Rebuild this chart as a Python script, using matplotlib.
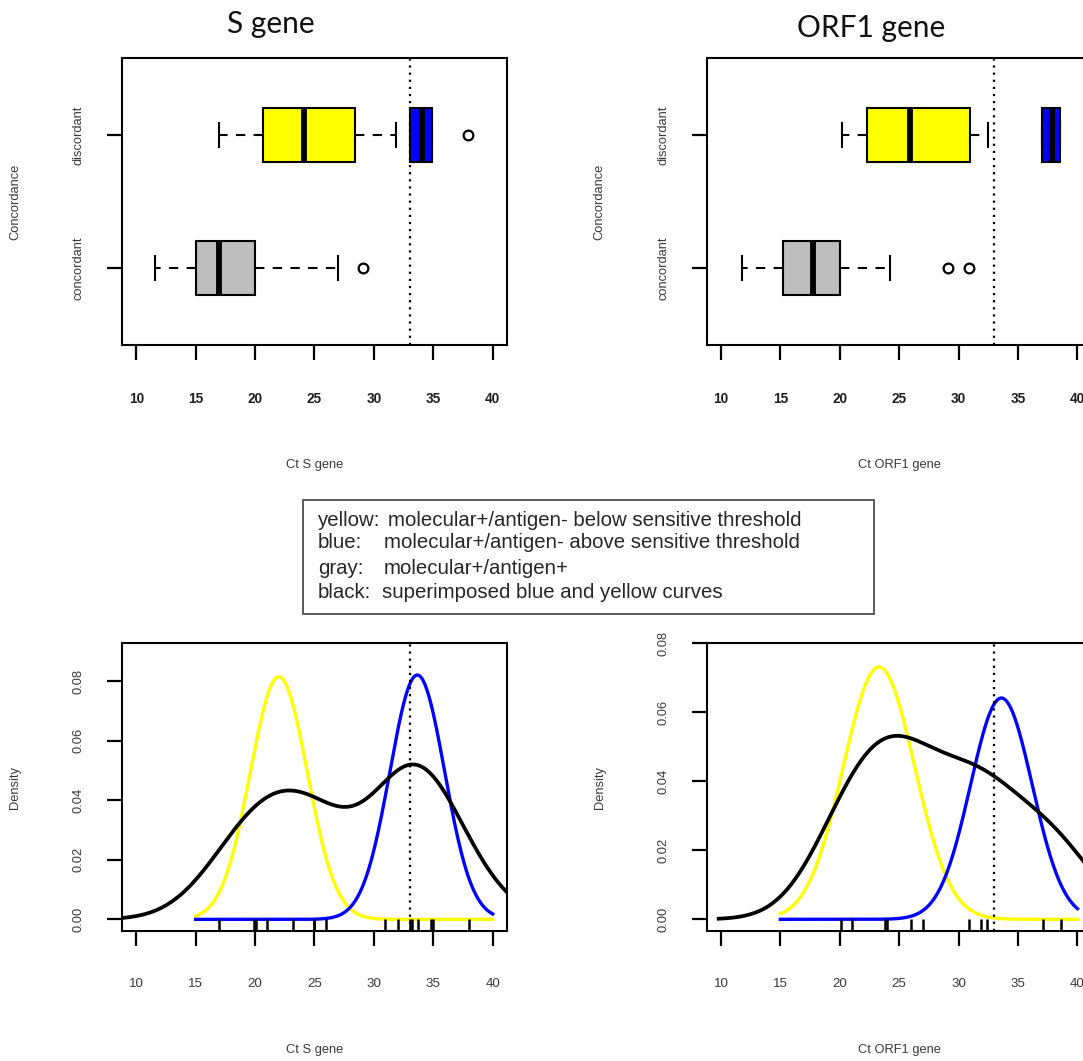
import numpy as np
import matplotlib
matplotlib.use("Agg")
import matplotlib.pyplot as plt
from matplotlib.patches import Rectangle

W, H = 1083, 1061

# box summaries: whislo, q1, med, q3, whishi, fliers
s_concordant = [11.6, 15.0, 17.0, 20.0, 27.0, [29.1]]
s_below = [16.95, 20.65, 24.1, 28.45, 31.9, []]
s_above = [33.05, 33.05, 34.05, 34.9, 34.9, [37.9]]
orf1_concordant = [11.8, 15.25, 17.75, 20.0, 24.25, [29.1, 30.9]]
orf1_below = [20.2, 22.3, 25.95, 30.95, 32.45, []]
orf1_above = [37.0, 37.0, 37.85, 38.55, 38.55, []]

# discordant Ct values (rug marks)
s_ct = [17.0, 19.9, 20.1, 21.0, 23.2, 25.0, 25.0, 26.0, 30.9, 32.0,
        33.0, 33.2, 33.7, 34.8, 35.0, 38.0]
orf1_ct = [20.1, 21.0, 23.8, 24.0, 26.0, 27.0, 30.9, 31.9, 32.4, 37.1, 38.6]

# fitted normal components: weight, mean, sd
s_yellow_fit = (0.49, 22.0, 2.4)
s_blue_fit = (0.473, 33.65, 2.3)
orf1_yellow_fit = (0.55, 23.3, 3.0)
orf1_blue_fit = (0.418, 33.6, 2.6)

group_labels = ["concordant", "discordant"]
x_ticks = [10, 15, 20, 25, 30, 35, 40]
threshold = 33

small = dict(family="Liberation Sans", size=9.3, color="#3a3a3a")


def px_to_fig(x, y):
    return x / W, 1 - y / H


def style_axes(ax):
    for sp in ax.spines.values():
        sp.set_linewidth(1.5)
    ax.tick_params(length=11, width=1.6, direction="out", colors="black",
                   labelcolor="#3a3a3a", labelsize=9.6)
    ax.tick_params(axis="x", pad=23)
    ax.tick_params(axis="y", pad=16)
    ax.set_xlim(8.8, 41.2)
    ax.set_xticks(x_ticks)
    ax.set_xticklabels([str(t) for t in x_ticks], family="Liberation Sans")


def stats(v):
    return dict(whislo=v[0], q1=v[1], med=v[2], q3=v[3], whishi=v[4], fliers=v[5])


def draw_box(ax, summary, pos, color):
    ax.bxp([stats(summary)], positions=[pos], widths=0.4, orientation="horizontal",
           patch_artist=True, capwidths=0.18, manage_ticks=False,
           boxprops=dict(facecolor=color, edgecolor="black", linewidth=1.5),
           medianprops=dict(color="black", linewidth=4.2, solid_capstyle="butt"),
           whiskerprops=dict(color="black", linewidth=1.5, linestyle=(0, (4.5, 4))),
           capprops=dict(color="black", linewidth=1.5),
           flierprops=dict(marker="o", markerfacecolor="none", markeredgecolor="black",
                           markersize=7, markeredgewidth=1.6))


def box_panel(ax, concordant, below, above, xlabel):
    draw_box(ax, concordant, 1, "#bebebe")
    draw_box(ax, below, 2, "#ffff00")
    draw_box(ax, above, 2, "#0000ff")
    ax.axvline(threshold, color="black", linestyle=(0, (1, 2.2)), linewidth=1.6)
    style_axes(ax)
    ax.set_ylim(0.42, 2.58)
    ax.set_yticks([1, 2])
    ax.set_yticklabels(group_labels, rotation=90, va="center", family="Liberation Sans",
                       fontsize=9.3)
    for lab in ax.get_xticklabels():
        lab.set_fontweight("bold")
        lab.set_fontsize(9.8)
        lab.set_color("#1e1e1e")
    ax.set_xlabel(xlabel, va="center", **small)
    ax.xaxis.set_label_coords(0.5, -0.418)
    ax.set_ylabel("Concordance", va="center", **small)
    ax.yaxis.set_label_coords(-0.278, 0.5)


def normal_curve(x, fit):
    w, m, s = fit
    return w * np.exp(-0.5 * ((x - m) / s) ** 2) / (s * np.sqrt(2 * np.pi))


def kde_curve(values):
    # gaussian kernel density with R's default (nrd0) bandwidth
    v = np.asarray(values)
    n = len(v)
    iqr = np.subtract(*np.percentile(v, [75, 25]))
    bw = 0.9 * min(v.std(ddof=1), iqr / 1.34) * n ** -0.2
    x = np.linspace(v.min() - 3 * bw, v.max() + 3 * bw, 512)
    y = np.exp(-0.5 * ((x[:, None] - v[None, :]) / bw) ** 2).sum(axis=1)
    return x, y / (n * bw * np.sqrt(2 * np.pi))


def density_panel(ax, ct, yellow_fit, blue_fit, ylim, xlabel):
    xs = np.linspace(15, 40, 300)
    ax.plot(xs, normal_curve(xs, yellow_fit), color="#ffff00", linewidth=2.4)
    ax.plot(xs, normal_curve(xs, blue_fit), color="#0000ff", linewidth=2.4)
    kx, ky = kde_curve(ct)
    ax.plot(kx, ky, color="black", linewidth=2.7)
    ax.vlines(ct, 0, 0.042, transform=ax.get_xaxis_transform(), color="black", linewidth=1.8)
    ax.axvline(threshold, color="black", linestyle=(0, (1, 2.2)), linewidth=1.6)
    style_axes(ax)
    ax.set_ylim(*ylim)
    yt = [0, 0.02, 0.04, 0.06, 0.08]
    ax.set_yticks(yt)
    ax.set_yticklabels([f"{t:.2f}" for t in yt], rotation=90, va="center",
                       family="Liberation Sans", fontsize=9.3)
    ax.set_xlabel(xlabel, va="center", **small)
    ax.xaxis.set_label_coords(0.5, -0.414)
    ax.set_ylabel("Density", va="center", **small)
    ax.yaxis.set_label_coords(-0.278, 0.5)


fig = plt.figure(figsize=(W / 100, H / 100), dpi=100)

ax_s_box = fig.add_axes([122 / W, 1 - 345 / H, 385 / W, 287 / H])
ax_o_box = fig.add_axes([706.7 / W, 1 - 345 / H, 385 / W, 287 / H])
ax_s_den = fig.add_axes([122 / W, 1 - 930.7 / H, 385 / W, 287.4 / H])
ax_o_den = fig.add_axes([706.7 / W, 1 - 930.7 / H, 385 / W, 287.4 / H])

box_panel(ax_s_box, s_concordant, s_below, s_above, "Ct S gene")
box_panel(ax_o_box, orf1_concordant, orf1_below, orf1_above, "Ct ORF1 gene")
density_panel(ax_s_den, s_ct, s_yellow_fit, s_blue_fit, (-0.0038, 0.0927), "Ct S gene")
density_panel(ax_o_den, orf1_ct, orf1_yellow_fit, orf1_blue_fit, (-0.0033, 0.080), "Ct ORF1 gene")

# panel titles
fig.text(*px_to_fig(271, 33), "S gene", ha="center", va="baseline",
         family="Lato", fontsize=21.5, color="#111111")
fig.text(*px_to_fig(871, 37), "ORF1 gene", ha="center", va="baseline",
         family="Lato", fontsize=21.5, color="#111111")

# colour key box
x0, y0 = px_to_fig(303, 614)
fig.patches.append(Rectangle((x0, y0), (874 - 303) / W, (614 - 500) / H,
                             transform=fig.transFigure, fill=False,
                             edgecolor="#404040", linewidth=1.2))
key_names = ["yellow:", "blue:", "gray:", "black:"]
key_texts = ["molecular+/antigen- below sensitive threshold",
             "molecular+/antigen- above sensitive threshold",
             "molecular+/antigen+",
             "superimposed blue and yellow curves"]
key_rows = [520, 543, 568, 592]
key_text_x = [388, 384, 384, 382]
for name, txt, row, tx in zip(key_names, key_texts, key_rows, key_text_x):
    fig.text(*px_to_fig(318, row), name, va="center", family="Liberation Sans",
             fontsize=14.7, color="#262626")
    fig.text(*px_to_fig(tx, row), txt, va="center", family="Liberation Sans",
             fontsize=14.7, color="#262626")

fig.savefig("out.png", dpi=100)
